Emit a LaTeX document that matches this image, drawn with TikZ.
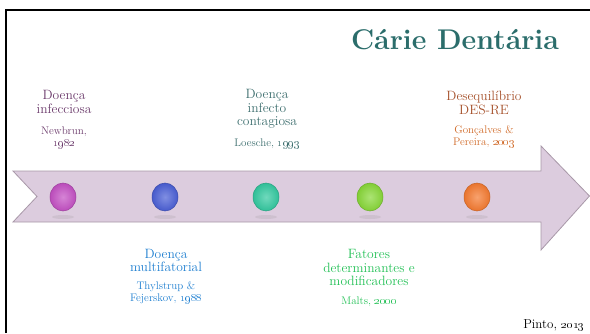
\documentclass[tikz,border=0pt]{standalone}
\usetikzlibrary{shadings,shapes.geometric}
\definecolor{titlec}{HTML}{2B6D6B}
\definecolor{purplet}{HTML}{6B3A6B}
\definecolor{tealt}{HTML}{3D6E6E}
\definecolor{brownt}{HTML}{A5502A}
\definecolor{oranget}{HTML}{D06A28}
\definecolor{bluet}{HTML}{1F7FD0}
\definecolor{greent}{HTML}{22C055}
\definecolor{arrowfill}{HTML}{DCCCDE}
\definecolor{arrowline}{HTML}{A898A8}
\definecolor{c1}{HTML}{C450C4}
\definecolor{c2}{HTML}{4A5FD6}
\definecolor{c3}{HTML}{33C9A0}
\definecolor{c4}{HTML}{88D838}
\definecolor{c5}{HTML}{F57A30}
\begin{document}
\begin{tikzpicture}[x=1pt,y=-1pt,
  big/.style={align=center,inner sep=0pt,font=\fontsize{13.5}{13.5}\selectfont},
  small/.style={align=center,inner sep=0pt,font=\fontsize{11}{11.5}\selectfont},
  ball/.style={ellipse,minimum width=26pt,minimum height=28pt,inner sep=0pt,draw=#1!80!black,line width=0.5pt,inner color=#1!70!white,outer color=#1!95!black},
  shadowc/.style={ellipse,minimum width=22pt,minimum height=4pt,inner sep=0pt,fill=gray,opacity=.15}]
\useasboundingbox (0,0) rectangle (590,333);
\draw[line width=2.4pt] (6,333) -- (6,10) -- (590,10);
\filldraw[fill=arrowfill,draw=arrowline,line width=0.8pt]
  (13,171) -- (541,171) -- (541,146) -- (589.5,196) -- (541,250) -- (541,222) -- (13,222) -- (37,196.5) -- cycle;
\node[font=\fontsize{28.5}{30}\selectfont\bfseries,text=titlec,inner sep=0pt] (title) at (455,40) {Cárie Dentária};
\foreach \x/\c [count=\i] in {63/c1,165/c2,266/c3,370/c4,477/c5}{
  \node[shadowc] (s\i) at (\x,217) {};
  \node[ball=\c] (b\i) at (\x,197) {};
}
\node[big,text=purplet] (t1) at (64,102) {Doença\\infecciosa};
\node[small,text=purplet] (r1) at (64,137.5) {Newbrun,\\\oldstylenums{1982}};
\node[big,text=tealt] (t3) at (267,109) {Doença\\infecto\\contagiosa};
\node[small,text=tealt] (r3) at (267,144) {Loesche, \oldstylenums{1993}};
\node[big,text=brownt] (t5) at (484,103) {Desequilíbrio\\DES-RE};
\node[small,text=oranget] (r5) at (484,136.5) {Gonçalves \&\\Pereira, \oldstylenums{2003}};
\node[big,text=bluet] (t2) at (166,260.5) {Doença\\multifatorial};
\node[small,text=bluet] (r2) at (166,292.5) {Thylstrup \&\\Fejerskov, \oldstylenums{1988}};
\node[big,text=greent] (t4) at (369,267.5) {Fatores\\determinantes e\\modificadores};
\node[small,text=greent] (r4) at (369,302) {Malts, \oldstylenums{2000}};
\node[font=\fontsize{13}{14}\selectfont,inner sep=0pt] (src) at (554,325) {Pinto, \oldstylenums{2013}};
\end{tikzpicture}
\end{document}
